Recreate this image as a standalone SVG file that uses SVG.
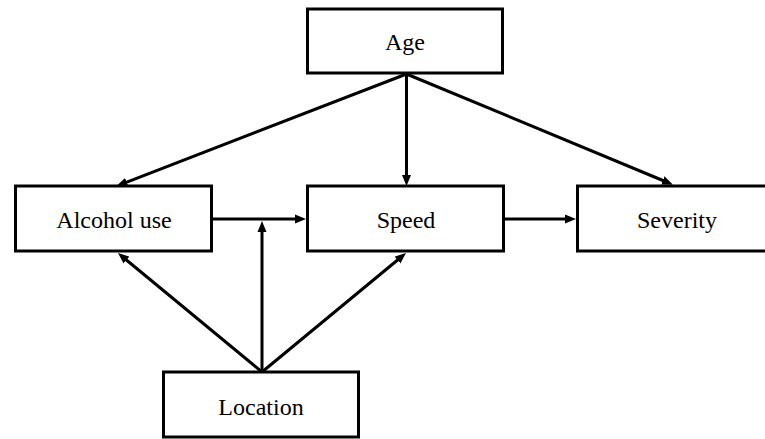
<svg xmlns="http://www.w3.org/2000/svg" width="765" height="439" viewBox="0 0 765 439">
  <style>
    .box { fill: #fff; stroke: #000; stroke-width: 3; }
    .label { font-family: "Liberation Serif", "Times New Roman", serif; font-size: 24px; fill: #000; text-anchor: middle; }
    .edge { stroke: #000; stroke-width: 3; fill: none; marker-end: url(#arrow); }
  </style>
  <defs>
    <marker id="arrow" markerUnits="userSpaceOnUse" markerWidth="11" markerHeight="10" refX="4" refY="5" orient="auto">
      <path d="M0,0.5 L11,5 L0,9.5 z" fill="#000"/>
    </marker>
  </defs>
  <rect width="765" height="439" fill="#fff"/>

  <g id="connectors">
    <line class="edge" x1="406.5" y1="74" x2="123" y2="183.6"/>
    <line class="edge" x1="406.5" y1="74" x2="406.5" y2="179"/>
    <line class="edge" x1="406.5" y1="74" x2="666.5" y2="182"/>
    <line class="edge" x1="212" y1="219" x2="299" y2="219"/>
    <line class="edge" x1="504" y1="219" x2="569" y2="219"/>
    <line class="edge" x1="262" y1="372" x2="262" y2="228"/>
    <line class="edge" x1="262" y1="372" x2="123.4" y2="257.5"/>
    <line class="edge" x1="262" y1="372" x2="400.6" y2="257.5"/>
  </g>

  <g id="age">
    <rect class="box" x="307.5" y="9" width="195" height="64"/>
    <text class="label" x="405" y="50">Age</text>
  </g>
  <g id="alcohol-use">
    <rect class="box" x="15.5" y="186" width="196" height="65"/>
    <text class="label" x="114" y="228">Alcohol use</text>
  </g>
  <g id="speed">
    <rect class="box" x="307.5" y="186" width="196" height="65"/>
    <text class="label" x="406" y="228">Speed</text>
  </g>
  <g id="severity">
    <rect class="box" x="577.5" y="186" width="196" height="65"/>
    <text class="label" x="677" y="228">Severity</text>
  </g>
  <g id="location">
    <rect class="box" x="163.5" y="372" width="195" height="65"/>
    <text class="label" x="261" y="415">Location</text>
  </g>
</svg>
